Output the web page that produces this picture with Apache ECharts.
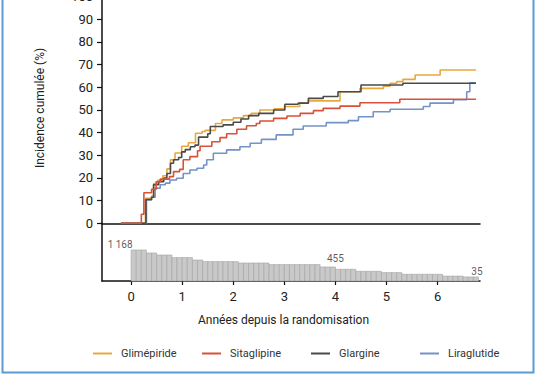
<!DOCTYPE html>
<html><head><meta charset="utf-8">
<script src="https://cdn.jsdelivr.net/npm/echarts@6/dist/echarts.min.js"></script>
<style>html,body{margin:0;padding:0;background:#fff}#c{width:536px;height:386px}</style>
</head><body><div id="c"></div>
<script>
// ---- data ----
const seriesNames = ['Glimépiride', 'Sitaglipine', 'Glargine', 'Liraglutide'];
const glimepiride = [[-0.2,0],[0.28,11],[0.4,12],[0.44,17.5],[0.52,19],[0.62,21],[0.7,24],[0.77,28],[0.86,31],[0.99,34],[1.12,35.5],[1.26,39.7],[1.39,40.5],[1.45,41],[1.65,44],[1.78,45.6],[2.0,46.5],[2.2,47.5],[2.35,48.5],[2.52,50],[2.8,50.5],[3.0,51.5],[3.3,53],[3.47,54],[4.09,58],[4.48,59.5],[4.94,60.5],[5.07,61.8],[5.2,62.5],[5.32,63.5],[5.56,65.4],[6.05,67.6],[6.75,67.6]];
const sitaglipine = [[-0.2,0],[0.2,4],[0.25,13.5],[0.4,15],[0.49,18.3],[0.57,19.5],[0.75,20.6],[0.83,22.8],[0.95,23.8],[1.02,28],[1.15,29.4],[1.3,32],[1.35,34],[1.58,36],[1.74,37.8],[1.87,39.5],[2.07,41.5],[2.26,43],[2.45,44],[2.52,45.1],[2.79,46.3],[3.05,47.3],[3.31,48.5],[3.57,49.7],[3.76,50.7],[4.09,51.7],[4.48,53.2],[5.26,54.7],[6.75,54.7]];
const glargine = [[-0.2,0],[0.29,10.5],[0.4,11.5],[0.44,17],[0.54,18.4],[0.64,20],[0.7,22],[0.77,26.5],[0.83,28],[0.93,29],[0.99,31.5],[1.06,32.5],[1.16,33.8],[1.25,34.5],[1.32,38],[1.5,39.5],[1.55,42.7],[1.8,43.4],[2.0,44.6],[2.15,46],[2.3,47.5],[2.5,48.5],[2.79,50],[3.01,52.5],[3.27,53],[3.47,55.1],[3.76,55.9],[4.05,58],[4.5,61],[5.32,61.8],[6.75,61.8]];
const liraglutide = [[-0.2,0],[0.3,10.3],[0.4,11.5],[0.47,15.5],[0.57,17],[0.67,17.7],[0.76,19.1],[0.89,19.9],[1.02,22],[1.15,23.5],[1.29,24.3],[1.42,25.7],[1.48,28],[1.61,30.9],[1.87,32.4],[2.13,33.8],[2.33,35.3],[2.55,37],[2.84,39],[3.17,41.5],[3.37,42.9],[3.82,44.4],[4.25,45.3],[4.45,47],[4.74,49.2],[5.07,50.3],[5.72,51.5],[5.85,53],[6.31,54.5],[6.57,58],[6.63,62],[6.75,62]];
const xTickValues = [0, 1, 2, 3, 4, 5, 6];
// number at risk, one bar per 0.1 year starting at year 0
const atRisk = [1168,1168,1168,1041,1041,957,957,957,848,848,848,848,747,747,680,680,680,680,680,680,680,621,621,621,621,621,621,554,554,554,554,554,554,554,554,554,554,455,455,455,357,357,357,357,273,273,273,273,273,218,218,218,218,147,147,147,147,147,147,147,147,70,70,70,70,35,35,35];
const riskLabels = [[0, 1168, '1 168'], [4.0, 455, '455'], [6.77, 35, '35']];

// ---- layout / style ----
const colors = { 'Glimépiride': '#e8a83e', 'Sitaglipine': '#d8513a', 'Glargine': '#4a4a4a', 'Liraglutide': '#7393c9' };
const X_MIN = -0.57, X_MAX = 6.83;
const RISK_MIN = -135, RISK_MAX = 2289;
const FONT = 'Roboto';

const chart = echarts.init(document.getElementById('c'), null, { renderer: 'svg' });

const lineSeries = (name, data) => ({
  name, type: 'line', step: 'end', data, showSymbol: false, symbol: 'none',
  xAxisIndex: 0, yAxisIndex: 0,
  lineStyle: { color: colors[name], width: 1.6 }, itemStyle: { color: colors[name] },
  animation: false
});

const legendLefts = [88, 197, 306, 415];
const legends = seriesNames.map((n, i) => ({
  data: [n], left: legendLefts[i], top: 343, icon: 'rect', itemWidth: 19, itemHeight: 2,
  selectedMode: false,
  textStyle: { fontFamily: FONT, fontSize: 11, color: '#333', padding: [0, 0, 0, 4] }
}));

chart.setOption({
  backgroundColor: '#fff',
  animation: false,
  legend: legends,
  grid: [
    { left: 102, right: 56, top: -3.4, bottom: 162.7, outerBoundsMode: 'none', containLabel: false },
    { left: 102, right: 56, top: 223.3, bottom: 105, outerBoundsMode: 'none', containLabel: false }
  ],
  xAxis: [
    { type: 'value', gridIndex: 0, min: X_MIN, max: X_MAX,
      axisLine: { show: true, onZero: false, lineStyle: { color: '#111', width: 1.5 } },
      axisTick: { show: false }, axisLabel: { show: false }, splitLine: { show: false } },
    { type: 'value', gridIndex: 1, min: X_MIN, max: X_MAX,
      axisLine: { show: true, onZero: false, lineStyle: { color: '#111', width: 1.5 } },
      axisTick: { show: true, length: 4, customValues: xTickValues, lineStyle: { color: '#111', width: 1.2 } },
      axisLabel: { show: true, customValues: xTickValues, margin: 9, fontFamily: FONT, fontSize: 13, color: '#222' },
      splitLine: { show: false } }
  ],
  yAxis: [
    { type: 'value', gridIndex: 0, min: 0, max: 100, interval: 10,
      axisLine: { show: true, onZero: false, lineStyle: { color: '#111', width: 1.5 } },
      axisTick: { show: true, length: 5, lineStyle: { color: '#111', width: 1.2 } },
      axisLabel: { margin: 9, fontFamily: FONT, fontSize: 13, color: '#222' },
      splitLine: { show: false } },
    { type: 'value', gridIndex: 1, min: RISK_MIN, max: RISK_MAX,
      axisLine: { show: true, onZero: false, lineStyle: { color: '#111', width: 1.5 } },
      axisTick: { show: false }, axisLabel: { show: false }, splitLine: { show: false } }
  ],
  graphic: [
    { type: 'text', x: 40, y: 108, rotation: Math.PI / 2,
      style: { text: 'Incidence cumulée (%)', fontFamily: FONT, fontSize: 12, fill: '#222', textAlign: 'center', textVerticalAlign: 'middle' } },
    { type: 'text', x: 283.5, y: 320,
      style: { text: 'Années depuis la randomisation', fontFamily: FONT, fontSize: 12, fill: '#222', textAlign: 'center', textVerticalAlign: 'middle' } },
    { type: 'rect', shape: { x: 2.5, y: -10, width: 531, height: 382.5 },
      style: { fill: 'none', stroke: '#5b9bd5', lineWidth: 2 }, z: 100 }
  ],
  series: [
    {
      type: 'custom', name: 'risk', xAxisIndex: 1, yAxisIndex: 1,
      data: atRisk.map((v, i) => [i * 0.1, (i + 1) * 0.1, v]),
      encode: { x: [0, 1], y: 2 },
      renderItem: (params, api) => {
        const a = api.coord([api.value(0), RISK_MIN]);
        const b = api.coord([api.value(1), api.value(2)]);
        return { type: 'rect', shape: { x: a[0], y: b[1], width: b[0] - a[0], height: a[1] - b[1] },
          style: { fill: '#c9c9c9', stroke: '#a3a3a3', lineWidth: 0.6 } };
      },
      silent: true, animation: false
    },
    {
      type: 'scatter', xAxisIndex: 1, yAxisIndex: 1, symbolSize: 0, silent: true,
      itemStyle: { color: 'rgba(0,0,0,0)' },
      data: riskLabels.map((r, i) => ({
        value: [r[0], r[1]],
        label: { show: true, position: 'inside', formatter: r[2], fontFamily: FONT, fontSize: 10, color: '#333',
          textBorderWidth: 0, offset: [[-11, -5], [0, -8], [0, -5]][i] }
      }))
    },
    lineSeries('Liraglutide', liraglutide),
    lineSeries('Glimépiride', glimepiride),
    lineSeries('Glargine', glargine),
    lineSeries('Sitaglipine', sitaglipine)
  ]
});
</script></body></html>
